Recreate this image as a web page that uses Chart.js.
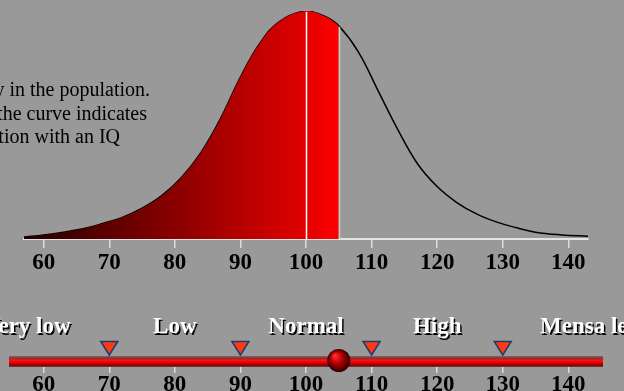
<!DOCTYPE html>
<html>
<head>
<meta charset="utf-8">
<script src="https://cdn.jsdelivr.net/npm/chart.js@4"></script>
<style>
  html, body { margin: 0; padding: 0; background: #999999; }
  #wrap { width: 624px; height: 391px; position: relative; overflow: hidden; }
</style>
</head>
<body>
<div id="wrap"><canvas id="iq-canvas"></canvas></div>
<script>
// bell curve (height relative to the peak)
var iqPoints = [57, 60, 63, 66, 69, 72, 75, 78, 81, 84, 87, 90, 93, 96, 100, 103, 105, 108, 111, 114, 117, 120, 123, 126, 129, 132, 135, 139, 143];
var density  = [0.009, 0.018, 0.03, 0.045, 0.068, 0.095, 0.135, 0.19, 0.27, 0.38, 0.53, 0.71, 0.86, 0.955, 1.0, 0.975, 0.935, 0.82, 0.65, 0.48, 0.33, 0.23, 0.16, 0.11, 0.075, 0.05, 0.03, 0.018, 0.012];

var tickValues = [60, 70, 80, 90, 100, 110, 120, 130, 140];
var meanIQ = 100;
var selectedIQ = 105;

// slider zones
var zoneNames  = ['Very low', 'Low', 'Normal', 'High', 'Mensa level'];
var zoneBounds = [45, 70, 90, 110, 130, 159];

var introLines = [
    'IQ frequency in the population.',
    'The height of the curve indicates',
    'the proportion of the population with an IQ'
];

document.addEventListener('DOMContentLoaded', function() {
    var ctx = document.getElementById('iq-canvas').getContext('2d');

    var curve = [];
    var filled = [];
    for (var i = 0; i < iqPoints.length; i++) {
        curve.push({ x: iqPoints[i], y: density[i] });
        if (iqPoints[i] <= selectedIQ) filled.push({ x: iqPoints[i], y: density[i] });
    }

    function fillGradient(context) {
        var chart = context.chart;
        var area = chart.chartArea;
        if (!area) return '#a00000';
        var x1 = chart.scales.x.getPixelForValue(selectedIQ);
        var g = chart.ctx.createLinearGradient(area.left, 0, x1, 0);
        g.addColorStop(0, '#240000');
        g.addColorStop(0.5, '#8e0000');
        g.addColorStop(0.9, '#e20000');
        g.addColorStop(1, '#ff0000');
        return g;
    }

    var serif = '"Liberation Serif", "Times New Roman", serif';

    var overlay = {
        id: 'overlay',
        beforeDraw: function(chart) {
            var c = chart.ctx;
            c.save();
            c.font = '20px ' + serif;
            c.fillStyle = '#000';
            c.textAlign = 'right';
            c.textBaseline = 'alphabetic';
            var ends = [150, 147, 120];
            for (var i = 0; i < introLines.length; i++) {
                c.fillText(introLines[i], ends[i], 96 + i * 23.5);
            }
            c.restore();
        },
        afterDatasetsDraw: function(chart) {
            var c = chart.ctx;
            var xs = chart.scales.x, ys = chart.scales.y;
            c.save();
            // mean line
            var xm = Math.round(xs.getPixelForValue(meanIQ)) + 0.5;
            c.strokeStyle = '#ffffff';
            c.lineWidth = 1.5;
            c.beginPath();
            c.moveTo(xm, ys.getPixelForValue(1.0) + 1);
            c.lineTo(xm, ys.getPixelForValue(0));
            c.stroke();
            // edge of the selected area
            var idx = iqPoints.indexOf(selectedIQ);
            var xe = Math.round(xs.getPixelForValue(selectedIQ)) + 0.5;
            c.strokeStyle = '#c9c9c9';
            c.beginPath();
            c.moveTo(xe, ys.getPixelForValue(density[idx]) + 1);
            c.lineTo(xe, ys.getPixelForValue(0));
            c.stroke();
            c.restore();
        },
        afterDraw: function(chart) {
            var c = chart.ctx;
            var xs = chart.scales.x;
            var area = chart.chartArea;
            c.save();

            // slider bar
            var barL = area.left - 15, barR = area.right + 15;
            var barT = 356, barB = 367;
            var g = c.createLinearGradient(0, barT, 0, barB);
            g.addColorStop(0, '#6e6e6e');
            g.addColorStop(0.2, '#8a3030');
            g.addColorStop(0.4, '#ff1010');
            g.addColorStop(0.65, '#d80000');
            g.addColorStop(0.85, '#8a0000');
            g.addColorStop(1, '#5a4a4a');
            c.fillStyle = g;
            c.fillRect(barL, barT, barR - barL, barB - barT);

            // zone labels
            c.font = 'bold 23px ' + serif;
            c.textAlign = 'center';
            c.textBaseline = 'alphabetic';
            for (var i = 0; i < zoneNames.length; i++) {
                var mid = (zoneBounds[i] + zoneBounds[i + 1]) / 2;
                var lx = xs.getPixelForValue(mid);
                c.fillStyle = '#000';
                c.fillText(zoneNames[i], lx + 1.5, 334.5);
                c.fillStyle = '#fff';
                c.fillText(zoneNames[i], lx, 333);
            }

            // zone markers
            c.fillStyle = '#ff3a12';
            c.strokeStyle = '#1d3c6c';
            c.lineWidth = 1.5;
            c.lineJoin = 'miter';
            for (var j = 1; j < zoneBounds.length - 1; j++) {
                var tx = xs.getPixelForValue(zoneBounds[j]);
                c.beginPath();
                c.moveTo(tx - 8.5, 341.5);
                c.lineTo(tx + 8.5, 341.5);
                c.lineTo(tx, 355);
                c.closePath();
                c.fill();
                c.stroke();
            }

            // slider knob
            var kx = xs.getPixelForValue(selectedIQ), ky = 360.5;
            var rg = c.createRadialGradient(kx - 4, ky - 5, 1, kx, ky, 11.5);
            rg.addColorStop(0, '#ff2a2a');
            rg.addColorStop(0.45, '#b80000');
            rg.addColorStop(1, '#300000');
            c.fillStyle = rg;
            c.beginPath();
            c.arc(kx, ky, 11.5, 0, Math.PI * 2);
            c.fill();

            c.restore();
        }
    };

    var axisFont = { family: serif, size: 23, weight: 'bold' };

    new Chart(ctx, {
        type: 'line',
        data: {
            datasets: [
                {
                    label: 'selected',
                    data: filled,
                    fill: 'origin',
                    backgroundColor: fillGradient,
                    borderWidth: 0,
                    pointRadius: 0,
                    tension: 0.4
                },
                {
                    label: 'IQ distribution',
                    data: curve,
                    fill: false,
                    borderColor: '#000000',
                    borderWidth: 1.5,
                    pointRadius: 0,
                    tension: 0.4
                }
            ]
        },
        options: {
            responsive: true,
            maintainAspectRatio: false,
            animation: false,
            layout: { padding: { left: 24, right: 36, top: 11, bottom: 0 } },
            plugins: {
                legend: { display: false },
                tooltip: { enabled: false }
            },
            scales: {
                x: {
                    type: 'linear',
                    axis: 'x',
                    min: 57,
                    max: 143,
                    position: { y: 0 },
                    afterBuildTicks: function(scale) {
                        scale.ticks = tickValues.map(function(v) { return { value: v }; });
                    },
                    afterFit: function(scale) { scale.height = 0; },
                    grid: { drawOnChartArea: false, color: '#dddddd', lineWidth: 1.5, tickLength: 8 },
                    border: { display: true, color: '#e4e4e4', width: 2 },
                    ticks: { color: '#000', font: axisFont, padding: 2, maxRotation: 0, autoSkip: false }
                },
                x2: {
                    type: 'linear',
                    axis: 'x',
                    min: 57,
                    max: 143,
                    position: { y: -0.557 },
                    afterBuildTicks: function(scale) {
                        scale.ticks = tickValues.map(function(v) { return { value: v }; });
                    },
                    afterFit: function(scale) { scale.height = 0; },
                    grid: { drawOnChartArea: false, color: '#dddddd', lineWidth: 1.5, tickLength: 7 },
                    border: { display: false },
                    ticks: { color: '#000', font: axisFont, padding: -2, maxRotation: 0, autoSkip: false }
                },
                y: {
                    type: 'linear',
                    min: -0.6667,
                    max: 1,
                    display: false
                }
            }
        },
        plugins: [overlay]
    });
});
</script>
</body>
</html>
